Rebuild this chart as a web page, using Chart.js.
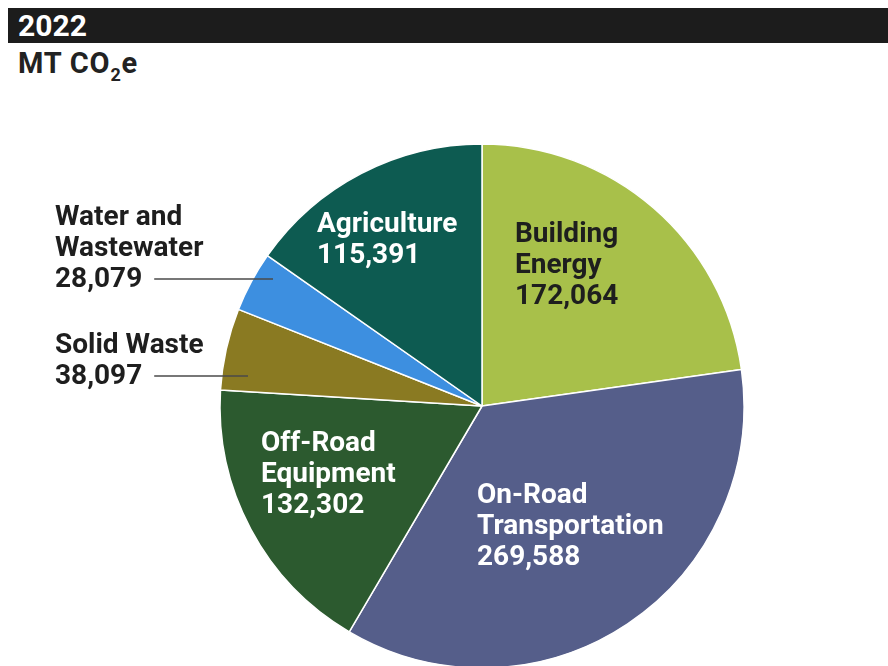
<!DOCTYPE html>
<html>
<head>
<meta charset="utf-8">
<script src="https://cdn.jsdelivr.net/npm/chart.js@4"></script>
<style>
  html, body { margin: 0; padding: 0; background: #fff; overflow: hidden; }
  body { width: 888px; height: 666px; position: relative; font-family: Roboto, sans-serif; }
  .bar { position: absolute; left: 8px; top: 8px; width: 880px; height: 35px; background: #1c1c1c; }
  .bar span { position: absolute; left: 10px; top: 3px; color: #fff; font-weight: 700; font-size: 30px; line-height: 30px; }
  .unit { position: absolute; left: 18px; top: 49px; color: #222; font-weight: 700; font-size: 29px; line-height: 29px; letter-spacing: 0.8px; }
  .unit sub { font-size: 18px; vertical-align: -8px; line-height: 0; }
  canvas { position: absolute; left: 0; top: 0; }
</style>
</head>
<body>
<div class="bar"><span>2022</span></div>
<div class="unit">MT CO<sub>2</sub>e</div>
<canvas id="pie" width="888" height="666"></canvas>
<script>
const sectors = ['Building Energy', 'On-Road Transportation', 'Off-Road Equipment', 'Solid Waste', 'Water and Wastewater', 'Agriculture'];
const emissions = [172064, 269588, 132302, 38097, 28079, 115391];
const sliceColors = ['#a8c04a', '#555e8a', '#2c5a2f', '#8a7a22', '#3d8fe0', '#0d5b51'];

// label placement, in px relative to the pie centre (first baseline)
const labelSpots = [
  { lines: ['Building', 'Energy'], dx: 33, dy: -164, color: '#1e1e1e' },
  { lines: ['On-Road', 'Transportation'], dx: -5, dy: 97, color: '#fff' },
  { lines: ['Off-Road', 'Equipment'], dx: -221, dy: 45, color: '#fff' },
  { lines: ['Solid Waste'], dx: -427, dy: -53, color: '#1e1e1e', lead: -234 },
  { lines: ['Water and', 'Wastewater'], dx: -427, dy: -181, color: '#1e1e1e', lead: -209 },
  { lines: ['Agriculture'], dx: -165, dy: -174, color: '#fff' }
];

const fmt = n => n.toLocaleString('en-US');

const labelPlugin = {
  id: 'sliceLabels',
  afterDatasetsDraw(chart) {
    const arc = chart.getDatasetMeta(0).data[0];
    const cx = arc.x, cy = arc.y;
    const ctx = chart.ctx;
    const lh = 31;
    ctx.save();
    ctx.font = '700 28px Roboto, sans-serif';
    ctx.textBaseline = 'alphabetic';
    ctx.textAlign = 'left';
    labelSpots.forEach((s, i) => {
      const x = cx + s.dx;
      const y = cy + s.dy;
      const all = s.lines.concat(fmt(emissions[i]));
      ctx.fillStyle = s.color;
      all.forEach((t, k) => ctx.fillText(t, x, y + k * lh));
      if (s.lead !== undefined) {
        const ly = y + (all.length - 1) * lh - 8;
        const w = ctx.measureText(all[all.length - 1]).width;
        ctx.strokeStyle = '#4a4a4a';
        ctx.lineWidth = 1.5;
        ctx.beginPath();
        ctx.moveTo(x + w + 12, ly);
        ctx.lineTo(cx + s.lead, ly);
        ctx.stroke();
      }
    });
    ctx.restore();
  }
};

new Chart(document.getElementById('pie'), {
  type: 'pie',
  data: {
    labels: sectors,
    datasets: [{
      data: emissions,
      backgroundColor: sliceColors,
      borderColor: '#ffffff',
      borderWidth: 1.5
    }]
  },
  options: {
    responsive: false,
    animation: false,
    radius: 262,
    layout: { padding: { top: 146, bottom: 0, left: 220, right: 144 } },
    plugins: {
      legend: { display: false },
      tooltip: { enabled: false }
    }
  },
  plugins: [labelPlugin]
});
</script>
</body>
</html>
